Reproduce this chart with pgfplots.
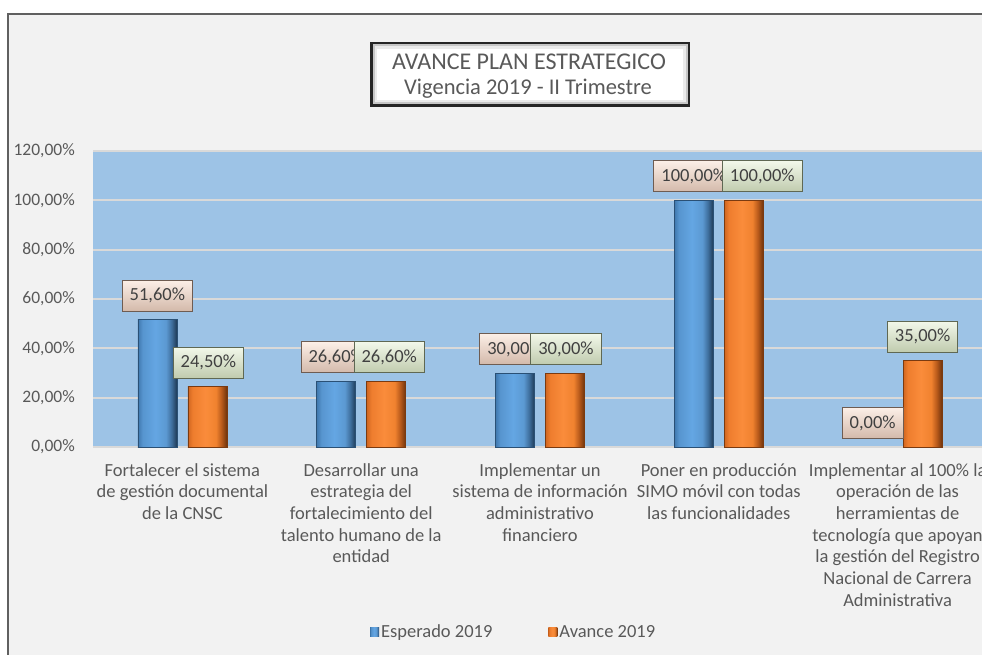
\documentclass[border=0pt]{standalone}
\usepackage{pgfplots}
\pgfplotsset{compat=1.18}
\usepackage{fontspec}
\setmainfont{Carlito}
\definecolor{txt}{HTML}{595959}
\definecolor{bgc}{HTML}{F2F2F2}
\definecolor{plotbg}{HTML}{9DC3E6}
\definecolor{gridc}{HTML}{D9D9D9}
\definecolor{framec}{HTML}{606060}
\definecolor{pkT}{HTML}{FCEFE7}
\definecolor{pkB}{HTML}{D3B9AA}
\definecolor{pkD}{HTML}{6E5C52}
\definecolor{grT}{HTML}{F2F8EA}
\definecolor{grB}{HTML}{C0CBAE}
\definecolor{grD}{HTML}{5F6853}
\definecolor{cbA}{HTML}{3F78AE}
\definecolor{cbB}{HTML}{5795CF}
\definecolor{cbC}{HTML}{64A6E3}
\definecolor{cbD}{HTML}{5B99D2}
\definecolor{cbE}{HTML}{3F6F9E}
\definecolor{cbF}{HTML}{1E3A56}
\definecolor{coA}{HTML}{D0661F}
\definecolor{coB}{HTML}{EE7D2E}
\definecolor{coC}{HTML}{FA8C3B}
\definecolor{coD}{HTML}{F0822F}
\definecolor{coE}{HTML}{B85A1B}
\definecolor{coF}{HTML}{6E330C}
\definecolor{bEdge}{HTML}{2A5075}
\definecolor{oEdge}{HTML}{7A3A10}
\pgfdeclarehorizontalshading{blueshade}{100bp}{
  color(0bp)=(cbA); color(25bp)=(cbA); color(31bp)=(cbB); color(47.5bp)=(cbC);
  color(61bp)=(cbD); color(68bp)=(cbE); color(75bp)=(cbF); color(100bp)=(cbF)}
\pgfdeclarehorizontalshading{orangeshade}{100bp}{
  color(0bp)=(coA); color(25bp)=(coA); color(31bp)=(coB); color(47.5bp)=(coC);
  color(61bp)=(coD); color(68bp)=(coE); color(75bp)=(coF); color(100bp)=(coF)}
\tikzset{
  lbl/.style={anchor=south, yshift=8pt,
    font=\fontsize{18.5}{22}\selectfont, text=black!75,
    minimum height=31pt, inner xsep=7.5pt, inner ysep=0pt, line width=1pt},
  lblA/.style={lbl, top color=pkT, bottom color=pkB, draw=pkD},
  lblB/.style={lbl, top color=grT, bottom color=grB, draw=grD},
}
\pgfplotsset{
  bluebar/.style={ybar, bar width=39pt, bar shift=-25pt,
    shade, shading=blueshade, draw=bEdge, line width=0.6pt,
    nodes near coords={\pgfmathprintnumber[fixed,fixed zerofill,precision=2,use comma,assume math mode=true]{\pgfplotspointmeta}\%},
    every node near coord/.append style={lblA, xshift=-25pt}},
  orangebar/.style={ybar, bar width=39pt, bar shift=25pt,
    shade, shading=orangeshade, draw=oEdge, line width=0.6pt,
    nodes near coords={\pgfmathprintnumber[fixed,fixed zerofill,precision=2,use comma,assume math mode=true]{\pgfplotspointmeta}\%},
    every node near coord/.append style={lblB, xshift=25pt}},
}
\begin{document}
\begin{tikzpicture}
\path[use as bounding box] (0pt,0pt) rectangle (982pt,-655pt);
\clip (0pt,0pt) rectangle (982pt,-655pt);
\fill[white] (0pt,0pt) rectangle (982pt,-655pt);
\fill[bgc] (8pt,-14pt) rectangle (1000pt,-700pt);
\draw[framec, line width=1.5pt] (8pt,-700pt) -- (8pt,-14pt) -- (1000pt,-14pt);
% title box
\fill[black!85] (370pt,-42pt) rectangle (690pt,-107pt);
\fill[black!22] (372.5pt,-44.5pt) rectangle (687.5pt,-104.5pt);
\fill[black!8] (374.5pt,-46.5pt) rectangle (685.5pt,-102.5pt);
\fill[white] (377pt,-49pt) rectangle (683pt,-100pt);
\node[anchor=base, text=txt, font=\fontsize{24}{28}\selectfont, inner sep=0pt] at (529pt,-70pt) {AVANCE PLAN ESTRATEGICO};
\node[anchor=base, text=txt, font=\fontsize{22.5}{26}\selectfont, inner sep=0pt] at (528pt,-95pt) {Vigencia 2019 - II Trimestre};
\begin{axis}[
  at={(93pt,-447pt)}, anchor=south west,
  scale only axis, width=894pt, height=296pt,
  xmin=-0.5, xmax=4.5, ymin=0, ymax=120,
  axis background/.style={fill=plotbg},
  axis line style={draw=none},
  major tick length=0pt,
  ymajorgrids, grid style={gridc, line width=2pt},
  ytick={0,20,...,120},
  yticklabel={\pgfmathprintnumber[fixed,fixed zerofill,precision=2,use comma,assume math mode=true]{\tick}\%},
  yticklabel style={text=txt, font=\fontsize{17.5}{21}\selectfont, inner sep=0pt, xshift=-18pt},
  xtick={0,1,2,3,4},
  xticklabels={
    {Fortalecer el sistema\\de gestión documental\\de la CNSC},
    {Desarrollar una\\estrategia del\\fortalecimiento del\\talento humano de la\\entidad},
    {Implementar un\\sistema de información\\administrativo\\financiero},
    {Poner en producción\\SIMO móvil con todas\\las funcionalidades},
    {Implementar al 100\% la\\operación de las\\herramientas de\\tecnología que apoyan\\la gestión del Registro\\Nacional de Carrera\\Administrativa}},
  xticklabel style={text=txt, font=\fontsize{18.5}{21.7}\selectfont, align=center, anchor=north, inner sep=0pt, yshift=-16pt},
  legend style={draw=none, fill=none, at={(0.4705,-0.625)}, anchor=center,
    font=\fontsize{18.5}{22}\selectfont, text=txt,
    /tikz/every even column/.append style={column sep=54pt}},
  legend columns=2,
  legend image code/.code={\path[#1, draw=none] (0pt,-4.5pt) rectangle (9pt,4.5pt);},
]
% Esperado 2019
\addplot[bluebar] coordinates {(0,51.6)};
\addlegendentry{Esperado 2019}
% Avance 2019
\addplot[orangebar, every node near coord/.append style={xshift=1pt}] coordinates {(0,24.5)};
\addlegendentry{Avance 2019}
\addplot[bluebar, forget plot] coordinates {(1,26.6)};
\addplot[bluebar, forget plot] coordinates {(2,30.0)};
\addplot[bluebar, forget plot] coordinates {(3,100.0)};
\addplot[bluebar, draw=none, forget plot] coordinates {(4,0.0)};
\addplot[orangebar, forget plot, every node near coord/.append style={xshift=3pt}] coordinates {(1,26.6)};
\addplot[orangebar, forget plot, every node near coord/.append style={xshift=1pt}] coordinates {(2,30.0)};
\addplot[orangebar, forget plot, every node near coord/.append style={xshift=18.5pt}] coordinates {(3,100.0)};
\addplot[orangebar, forget plot] coordinates {(4,35.0)};
\end{axis}
\end{tikzpicture}
\end{document}
